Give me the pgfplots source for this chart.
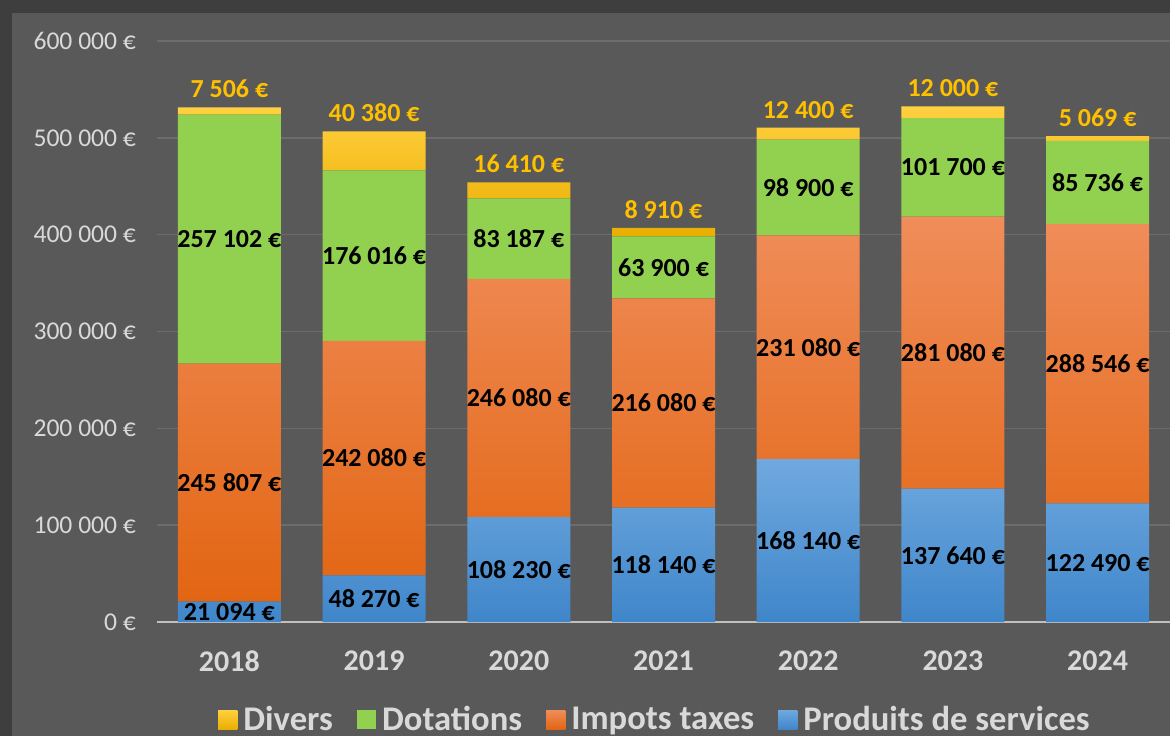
\documentclass[border=0pt]{standalone}
\usepackage{fontspec}
\setmainfont{Carlito}
\usepackage{pgfplots}
\pgfplotsset{compat=1.18}
\usepackage{pgfplotstable}

\definecolor{bgouter}{HTML}{3E3E3E}
\definecolor{bginner}{HTML}{595959}
\definecolor{gridc}{HTML}{6C6C6C}
\definecolor{axisc}{HTML}{BFBFBF}
\definecolor{txt}{HTML}{D9D9D9}
\definecolor{goldlab}{HTML}{FFC000}
\definecolor{divtop}{HTML}{FFD040}
\definecolor{divbot}{HTML}{EAAE00}
\definecolor{dotc}{HTML}{92D050}
\definecolor{imptop}{HTML}{F08D5A}
\definecolor{impbot}{HTML}{E26512}
\definecolor{prodtop}{HTML}{70A9DF}
\definecolor{prodbot}{HTML}{3F86CA}

\pgfplotstableread{
x y
0 21094
1 48270
2 108230
3 118140
4 168140
5 137640
6 122490
}\produits
\pgfplotstableread{
x y
0 245807
1 242080
2 246080
3 216080
4 231080
5 281080
6 288546
}\impots
\pgfplotstableread{
x y
0 257102
1 176016
2 83187
3 63900
4 98900
5 101700
6 85736
}\dotations
\pgfplotstableread{
x y
0 7506
1 40380
2 16410
3 8910
4 12400
5 12000
6 5069
}\divers

\pgfplotstableread[col sep=comma]{
x,y,label
0,10547,21 094 €
1,24135,48 270 €
2,54115,108 230 €
3,59070,118 140 €
4,84070,168 140 €
5,68820,137 640 €
6,61245,122 490 €
0,143998,245 807 €
1,169310,242 080 €
2,231270,246 080 €
3,226180,216 080 €
4,283680,231 080 €
5,278180,281 080 €
6,266763,288 546 €
0,395452,257 102 €
1,378358,176 016 €
2,395904,83 187 €
3,366170,63 900 €
4,448670,98 900 €
5,469570,101 700 €
6,453904,85 736 €
}\labelsin
\pgfplotstableread[col sep=comma]{
x,y,label
0,531509,7 506 €
1,506746,40 380 €
2,453907,16 410 €
3,407030,8 910 €
4,510520,12 400 €
5,532420,12 000 €
6,501841,5 069 €
}\labelstop

\begin{document}
\begin{tikzpicture}
\fill[bgouter] (0,0) rectangle (585pt,368pt);
\fill[bginner] (6pt,0) rectangle (585pt,361.5pt);
\path[use as bounding box] (0,0) rectangle (585pt,368pt);

\begin{axis}[
  at={(78.5pt,57pt)}, anchor=south west,
  scale only axis, width=506.5pt, height=290.5pt,
  xmin=-0.5, xmax=6.5, ymin=0, ymax=600000,
  scaled y ticks=false,
  ybar stacked, bar width=51.5pt,
  axis x line*=bottom, axis y line*=left,
  x axis line style={draw=axisc, line width=1.1pt},
  y axis line style={draw=none},
  ymajorgrids, major grid style={draw=gridc, line width=0.7pt},
  tick style={draw=none},
  xtick={0,1,2,3,4,5,6},
  xticklabels={2018,2019,2020,2021,2022,2023,2024},
  xticklabel style={text=txt, font=\bfseries\fontsize{15}{17}\selectfont, yshift=-11pt},
  ytick={0,100000,200000,300000,400000,500000,600000},
  yticklabels={0 €,100 000 €,200 000 €,300 000 €,400 000 €,500 000 €,600 000 €},
  yticklabel style={text=txt, font=\fontsize{12.8}{14}\selectfont, xshift=-7pt},
  /pgf/number format/assume math mode=true,
  reverse legend,
  legend columns=4,
  legend style={at={(0.4926,-0.168)}, anchor=center, draw=none, fill=none,
    text=txt, font=\bfseries\fontsize{17.3}{19}\selectfont,
    /tikz/every even column/.append style={column sep=10pt},
    /tikz/every odd column/.append style={column sep=1pt}},
  legend image code/.code={\fill[#1] (0pt,-4.8pt) rectangle (9.6pt,4.8pt);},
  clip=false,
]
\addplot[draw=none, top color=prodtop, bottom color=prodbot] table[x=x,y=y]{\produits};
\addlegendentry{Produits de services}
\addplot[draw=none, top color=imptop, bottom color=impbot] table[x=x,y=y]{\impots};
\addlegendentry{Impots taxes}
\addplot[draw=none, fill=dotc] table[x=x,y=y]{\dotations};
\addlegendentry{Dotations}
\addplot[draw=none, top color=divtop, bottom color=divbot] table[x=x,y=y]{\divers};
\addlegendentry{Divers}
\end{axis}

\begin{axis}[
  at={(78.5pt,57pt)}, anchor=south west,
  scale only axis, width=506.5pt, height=290.5pt,
  xmin=-0.5, xmax=6.5, ymin=0, ymax=600000,
  hide axis, clip=false,
]
\addplot[draw=none, mark=none, nodes near coords, point meta=explicit symbolic,
  every node near coord/.append style={anchor=center, text=black, inner sep=0pt,
    font=\bfseries\fontsize{13}{15}\selectfont}]
  table[x=x,y=y,meta=label]{\labelsin};
\addplot[draw=none, mark=none, nodes near coords, point meta=explicit symbolic,
  every node near coord/.append style={anchor=south, text=goldlab, inner sep=0pt, yshift=4.5pt,
    font=\bfseries\fontsize{13}{15}\selectfont}]
  table[x=x,y=y,meta=label]{\labelstop};
\end{axis}
\end{tikzpicture}
\end{document}
